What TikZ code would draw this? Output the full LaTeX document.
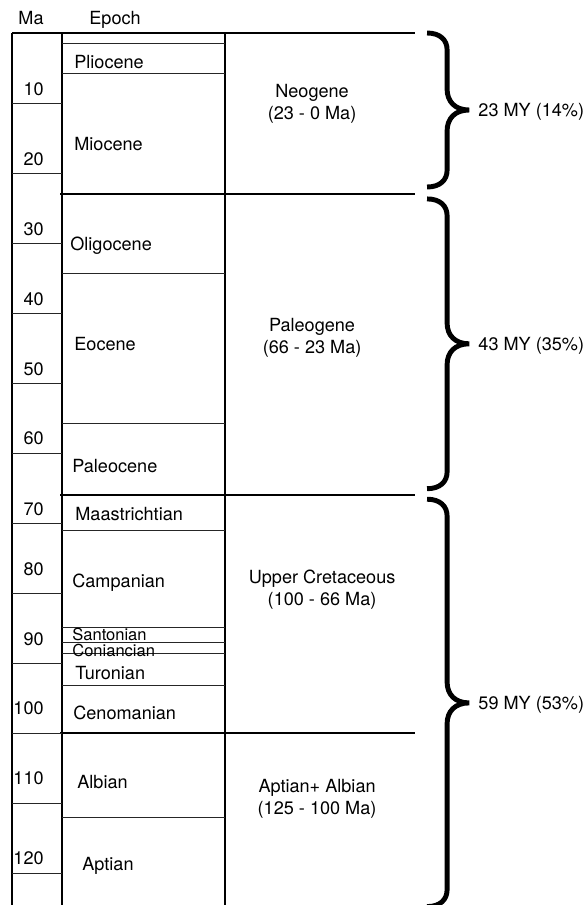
\documentclass[tikz,border=0pt]{standalone}
\usepackage{fontspec}
\setmainfont{TeX Gyre Heros}

% curly brace between two ages (in Ma), tip at the middle
\newcommand{\spanbrace}[2]{%
  \pgfmathsetmacro{\bmid}{(#1+#2)/2}
  \draw [bracestroke] (427,#1) .. controls (440,#1) and (447,#1+1) .. (447,#1+2.4)
    -- (447,\bmid-3) .. controls (447,\bmid-1.2) and (455,\bmid) .. (469,\bmid)
    .. controls (455,\bmid) and (447,\bmid+1.2) .. (447,\bmid+3)
    -- (447,#2-2.4) .. controls (447,#2-1) and (440,#2) .. (427,#2);}

\begin{document}
\begin{tikzpicture}[x=0.02cm, y=-0.14cm,
        lbl/.style={inner sep=0pt, text height=7.4pt, text depth=0pt, font=\fontsize{10.3}{12.5}\selectfont},
        small/.style={lbl, font=\fontsize{9.4}{11}\selectfont},
        period/.style={inner sep=0pt, align=center, font=\fontsize{10.3}{12.5}\selectfont},
        boundary/.style={line width=1.1pt},
        epochline/.style={line width=0.5pt, black!85},
        column/.style={line width=0.8pt},
        bracestroke/.style={line width=2.8pt}]
        \useasboundingbox (0,-4.714) rectangle (587,124.571);
        % column heads
        \path (31,-2.14) node (ma) [lbl] {Ma};
        \path (115,-2.14) node (epoch) [lbl] {Epoch};
        % frame, x in px and y in Ma
        \draw [column] (12,124.6) -- (12,0);
        \draw [column] (62,0) -- (62,124.6);
        \draw [column] (225,0) -- (225,124.6);
        \draw [boundary] (12,0) -- (415,0);
        \draw [boundary] (60,23) -- (415,23);
        \draw [boundary] (60,66) -- (415,66);
        \draw [boundary] (60,100) -- (415,100);
        % age scale
        \foreach \t/\ty in {10/8, 20/18, 30/28, 40/38, 50/48, 60/57.9, 70/68, 80/76.6, 90/86.6, 100/96.4, 110/106.4, 120/117.9} {
            \draw [epochline] (12,\t) -- (62,\t);
            \path (44,\ty) node (ma\t) [lbl, anchor=east] {\t};
        }
        % epochs and stages
        \foreach \b in {1.43, 5.71, 34.29, 55.71, 71, 84.86, 87, 88.57, 93.14, 112}
            \draw [epochline] (62,\b) -- (225,\b);
        \path (74,4.14) node (pliocene) [lbl, anchor=west] {Pliocene};
        \path (74,15.86) node (miocene) [lbl, anchor=west] {Miocene};
        \path (70,30.14) node (oligocene) [lbl, anchor=west] {Oligocene};
        \path (74,44.43) node (eocene) [lbl, anchor=west] {Eocene};
        \path (72,61.86) node (paleocene) [lbl, anchor=west] {Paleocene};
        \path (75,68.71) node (maastrichtian) [lbl, anchor=west] {Maastrichtian};
        \path (72,78.29) node (campanian) [lbl, anchor=west] {Campanian};
        \path (72,85.86) node (santonian) [small, anchor=west] {Santonian};
        \path (72,88.14) node (coniacian) [small, anchor=west] {Coniancian};
        \path (75,91.43) node (turonian) [lbl, anchor=west] {Turonian};
        \path (73,97.14) node (cenomanian) [lbl, anchor=west] {Cenomanian};
        \path (77,107) node (albian) [lbl, anchor=west] {Albian};
        \path (82,118.71) node (aptian) [lbl, anchor=west] {Aptian};
        % periods
        \path (312,10.1) node (neogene) [period] {Neogene\\(23 - 0 Ma)};
        \path (312,43.55) node (paleogene) [period] {Paleogene\\(66 - 23 Ma)};
        \path (322,79.55) node (uppercret) [period] {Upper Cretaceous\\(100 - 66 Ma)};
        \path (317,109.46) node (aptalb) [period] {Aptian+ Albian\\(125 - 100 Ma)};
        % durations
        \spanbrace{0}{22}
        \spanbrace{23.7}{65.1}
        \spanbrace{66.6}{124.8}
        \path (478,11) node (neogenespan) [lbl, anchor=west] {23 MY (14\%)};
        \path (478,44.4) node (paleogenespan) [lbl, anchor=west] {43 MY (35\%)};
        \path (478,95.7) node (cretspan) [lbl, anchor=west] {59 MY (53\%)};
\end{tikzpicture}
\end{document}
